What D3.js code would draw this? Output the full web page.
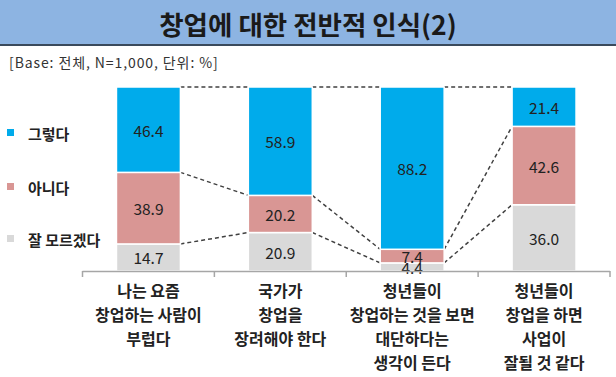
<!DOCTYPE html>
<html>
<head>
<meta charset="utf-8">
<script src="https://cdn.jsdelivr.net/npm/d3@7"></script>
<style>
  body { margin: 0; background: #fff; }
  svg { display: block; font-family: "Noto Sans CJK KR", "Noto Sans", sans-serif; }
</style>
</head>
<body>
<script>
// data
var categories = ["c1", "c2", "c3", "c4"];
var categoryLabels = [
    ["나는 요즘", "창업하는 사람이", "부럽다"],
    ["국가가", "창업을", "장려해야 한다"],
    ["청년들이", "창업하는 것을 보면", "대단하다는", "생각이 든다"],
    ["청년들이", "창업을 하면", "사업이", "잘될 것 같다"]
];
var seriesNames = ["잘 모르겠다", "아니다", "그렇다"];
var dontKnow = [14.7, 20.9, 4.4, 36.0];
var no = [38.9, 20.2, 7.4, 42.6];
var yes = [46.4, 58.9, 88.2, 21.4];
var colors = ["#d9d9d9", "#d99694", "#00abeb"];

var w = 616;
var h = 377;

var svg = d3.select("body")
            .append("svg")
            .attr("width", w)
            .attr("height", h);

// title band
svg.append("rect")
   .attr("x", 0).attr("y", 0)
   .attr("width", w).attr("height", 44)
   .attr("fill", "#8db4e2");
svg.append("line")
   .attr("x1", 0).attr("x2", w)
   .attr("y1", 45).attr("y2", 45)
   .attr("stroke", "#3a4a5c")
   .attr("stroke-width", 2);
svg.append("text")
   .attr("x", w / 2).attr("y", 23)
   .attr("text-anchor", "middle")
   .attr("dominant-baseline", "central")
   .attr("font-size", 26.5)
   .attr("font-weight", "bold")
   .attr("fill", "#1a1a1a")
   .text("창업에 대한 전반적 인식(2)");
svg.append("text")
   .attr("x", 9).attr("y", 62)
   .attr("dominant-baseline", "central")
   .attr("font-size", 14)
   .attr("letter-spacing", 0.9)
   .attr("fill", "#333")
   .text("[Base: 전체, N=1,000, 단위: %]");

var rows = categories.map(function(c, i) {
    return { cat: c, "잘 모르겠다": dontKnow[i], "아니다": no[i], "그렇다": yes[i] };
});
var stack = d3.stack().keys(seriesNames)(rows);

var x = d3.scaleBand()
          .domain(categories)
          .range([82.5, 610])
          .paddingInner(0.515)
          .paddingOuter(0.2575);
var y = d3.scaleLinear()
          .domain([0, 100])
          .range([271, 87]);

var bw = x.bandwidth();
var gap = (x.step() - bw) / 2;

// dashed connectors
stack.forEach(function(layer) {
    for (var i = 0; i < categories.length - 1; i++) {
        svg.append("line")
           .attr("x1", x(categories[i]) + bw)
           .attr("y1", y(layer[i][1]))
           .attr("x2", x(categories[i + 1]))
           .attr("y2", y(layer[i + 1][1]))
           .attr("stroke", "#404040")
           .attr("stroke-width", 1.5)
           .attr("stroke-dasharray", "4,3");
    }
});

// bars
svg.selectAll("g.layer")
   .data(stack)
   .enter()
   .append("g")
   .attr("class", "layer")
   .attr("fill", function(d, i) { return colors[i]; })
   .selectAll("rect")
   .data(function(d) { return d; })
   .enter()
   .append("rect")
   .attr("x", function(d) { return x(d.data.cat); })
   .attr("y", function(d) { return y(d[1]); })
   .attr("width", bw)
   .attr("height", function(d) { return y(d[0]) - y(d[1]); })
   .attr("stroke", "#fff")
   .attr("stroke-width", 1.5);

// value labels
stack.forEach(function(layer) {
    layer.forEach(function(d) {
        svg.append("text")
           .attr("x", x(d.data.cat) + bw / 2)
           .attr("y", y((d[0] + d[1]) / 2))
           .attr("text-anchor", "middle")
           .attr("dominant-baseline", "central")
           .attr("font-size", 15.5)
           .attr("fill", "#222")
           .text((d[1] - d[0]).toFixed(1));
    });
});

// axis
svg.append("line")
   .attr("x1", 82.5).attr("x2", 610)
   .attr("y1", 271.5).attr("y2", 271.5)
   .attr("stroke", "#a6a6a6")
   .attr("stroke-width", 1.5);
categories.forEach(function(c, i) {
    var bx = [x(c) - gap];
    if (i == categories.length - 1) bx.push(x(c) + bw + gap);
    bx.forEach(function(t) {
        svg.append("line")
           .attr("x1", t).attr("x2", t)
           .attr("y1", 271).attr("y2", 277)
           .attr("stroke", "#a6a6a6")
           .attr("stroke-width", 1.5);
    });
});

// category labels
categoryLabels.forEach(function(lines, i) {
    var t = svg.append("text")
               .attr("text-anchor", "middle")
               .attr("font-size", 16)
               .attr("font-weight", "bold")
               .attr("fill", "#222");
    lines.forEach(function(s, j) {
        t.append("tspan")
         .attr("x", x(categories[i]) + bw / 2)
         .attr("y", 297 + j * 24)
         .text(s);
    });
});

// legend
var legendY = [239, 187, 133];
seriesNames.forEach(function(s, i) {
    svg.append("rect")
       .attr("x", 7).attr("y", legendY[i] - 4)
       .attr("width", 7).attr("height", 7)
       .attr("fill", colors[i]);
    svg.append("text")
       .attr("x", 28).attr("y", legendY[i])
       .attr("dominant-baseline", "central")
       .attr("font-size", 15)
       .attr("font-weight", "bold")
       .attr("fill", "#222")
       .text(s);
});
</script>
</body>
</html>
